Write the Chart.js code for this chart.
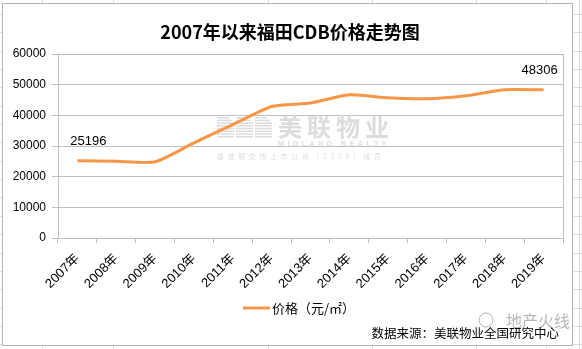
<!DOCTYPE html>
<html>
<head>
<meta charset="utf-8">
<script src="https://cdn.jsdelivr.net/npm/chart.js@4.4.1/dist/chart.umd.min.js"></script>
<style>
  html, body { margin: 0; padding: 0; background: #ffffff; }
  #wrap { position: relative; width: 582px; height: 349px; }
</style>
</head>
<body>
<div id="wrap"><canvas id="c"></canvas></div>
<script>
// Categories and series
const years = ['2007年', '2008年', '2009年', '2010年', '2011年', '2012年', '2013年',
               '2014年', '2015年', '2016年', '2017年', '2018年', '2019年'];
const prices = [25196, 25050, 24850, 31000, 37000, 42900, 44000,
                46700, 45700, 45400, 46400, 48350, 48306];
const yTicks = [0, 10000, 20000, 30000, 40000, 50000, 60000];
// Indices of points that carry a value label
const labelledPoints = [0, 12];

const chartTitle = '2007年以来福田CDB价格走势图';
const seriesName = '价格（元/㎡）';
const sourceNote = '数据来源：美联物业全国研究中心';

const ORANGE = '#F79646';
const GRID = '#BFBFBF';
const CJK = '"Noto Sans CJK SC", "Liberation Sans", sans-serif';
const NUM = '"Liberation Sans", "Noto Sans CJK SC", sans-serif';

// Sheet cells behind the chart object, frame, title
const backdrop = {
  id: 'backdrop',
  beforeDraw(chart) {
    const ctx = chart.ctx;
    const W = chart.width, H = chart.height;
    ctx.save();
    ctx.fillStyle = '#ffffff';
    ctx.fillRect(0, 0, W, H);
    // spreadsheet cell lines
    ctx.strokeStyle = '#D8DAE6';
    ctx.lineWidth = 1;
    [42, 113, 268, 372, 476, 546, 579].forEach(x => {
      ctx.beginPath(); ctx.moveTo(x + 0.5, 0); ctx.lineTo(x + 0.5, H); ctx.stroke();
    });
    for (let y = 14; y < H; y += 18.35) {
      const yy = Math.round(y) + 0.5;
      ctx.beginPath(); ctx.moveTo(0, yy); ctx.lineTo(W, yy); ctx.stroke();
    }
    // chart object
    ctx.fillStyle = '#ffffff';
    ctx.fillRect(2, 3, 570, 342);
    ctx.strokeStyle = '#B4B4B4';
    ctx.strokeRect(2.5, 3.5, 570, 342);
    // title
    ctx.fillStyle = '#000000';
    ctx.font = 'bold 18px ' + CJK;
    ctx.textAlign = 'center';
    ctx.textBaseline = 'middle';
    ctx.fillText(chartTitle, 290, 32);
    ctx.restore();
  }
};

// Company mark printed faintly across the plot
const watermark = {
  id: 'watermark',
  beforeDatasetsDraw(chart) {
    const ctx = chart.ctx;
    ctx.save();
    ctx.fillStyle = '#DCDCDC';
    // striped logo: three arches built from horizontal bars
    const bx = [217, 236, 255];
    for (let r = 0; r < 8; r++) {
      const y = 117 + r * 2.7;
      bx.forEach((x0) => {
        let w = 17;
        if (r === 0) { w = 12; }
        if (r === 1) { w = 15; }
        ctx.fillRect(x0, y, w, 1.5);
      });
    }
    ctx.font = 'bold 24px ' + CJK;
    ctx.textAlign = 'left';
    ctx.textBaseline = 'middle';
    ctx.letterSpacing = '5px';
    ctx.fillText('美联物业', 278, 127);
    ctx.font = 'bold 7px ' + NUM;
    ctx.letterSpacing = '3.6px';
    ctx.fillText('MIDLAND REALTY', 278, 144);
    ctx.font = '7px ' + CJK;
    ctx.letterSpacing = '3.6px';
    ctx.fillText('香港联交所上市公司（1200）成员', 217, 156);
    ctx.restore();
  }
};

// Value labels, plot frame, legend and source note
const annotations = {
  id: 'annotations',
  afterDatasetsDraw(chart) {
    const ctx = chart.ctx;
    const meta = chart.getDatasetMeta(0);
    const a = chart.chartArea;
    ctx.save();
    // plot area frame on the right
    ctx.strokeStyle = GRID;
    ctx.lineWidth = 1;
    ctx.beginPath();
    ctx.moveTo(Math.round(a.right) + 0.5, Math.round(a.top));
    ctx.lineTo(Math.round(a.right) + 0.5, Math.round(a.bottom));
    ctx.stroke();
    // value labels above chosen points
    ctx.fillStyle = '#000000';
    ctx.font = '13px ' + NUM;
    ctx.textAlign = 'center';
    ctx.textBaseline = 'middle';
    labelledPoints.forEach((i, k) => {
      const p = meta.data[i];
      const dx = k === 0 ? 11 : -4;
      ctx.fillText(String(prices[i]), p.x + dx, p.y - 19);
    });
    ctx.restore();
  },
  afterDraw(chart) {
    const ctx = chart.ctx;
    ctx.save();
    // legend
    ctx.strokeStyle = ORANGE;
    ctx.lineWidth = 3;
    ctx.beginPath(); ctx.moveTo(243, 308); ctx.lineTo(270, 308); ctx.stroke();
    ctx.fillStyle = '#000000';
    ctx.font = '13px ' + CJK;
    ctx.textAlign = 'left';
    ctx.textBaseline = 'middle';
    ctx.fillText(seriesName, 272, 308);
    // feed account mark
    ctx.fillStyle = 'rgba(165,165,165,0.8)';
    ctx.font = '16px ' + CJK;
    ctx.fillText('地产火线', 506, 321);
    ctx.strokeStyle = 'rgba(165,165,165,0.8)';
    ctx.lineWidth = 1;
    ctx.beginPath(); ctx.arc(486, 320, 7, 0, Math.PI * 2); ctx.stroke();
    // source note
    ctx.fillStyle = '#000000';
    ctx.font = '12.5px ' + CJK;
    ctx.textAlign = 'right';
    ctx.fillText(sourceNote, 559, 333);
    ctx.restore();
  }
};

new Chart(document.getElementById('c'), {
  type: 'line',
  data: {
    labels: years,
    datasets: [{
      label: seriesName,
      data: prices,
      borderColor: ORANGE,
      backgroundColor: ORANGE,
      borderWidth: 3,
      pointRadius: 0,
      pointHoverRadius: 0,
      tension: 0.2,
      fill: false
    }]
  },
  options: {
    responsive: true,
    maintainAspectRatio: false,
    devicePixelRatio: 1,
    animation: false,
    events: [],
    layout: { padding: { left: 0, top: 54, right: 19, bottom: 0 } },
    plugins: {
      legend: { display: false },
      title: { display: false },
      tooltip: { enabled: false }
    },
    scales: {
      x: {
        type: 'category',
        offset: true,
        afterFit(scale) { scale.height = 111; },
        grid: {
          offset: true,
          drawOnChartArea: false,
          drawTicks: true,
          tickLength: 5,
          color: GRID
        },
        border: { color: GRID },
        ticks: {
          color: '#000000',
          font: { family: NUM, size: 13 },
          maxRotation: 45,
          minRotation: 45,
          autoSkip: false,
          padding: 8
        }
      },
      y: {
        min: yTicks[0],
        max: yTicks[yTicks.length - 1],
        afterFit(scale) { scale.width = 58; },
        afterBuildTicks(scale) { scale.ticks = yTicks.map(v => ({ value: v })); },
        grid: {
          color: GRID,
          drawTicks: true,
          tickLength: 6
        },
        border: { color: GRID },
        ticks: {
          color: '#000000',
          font: { family: NUM, size: 12 },
          padding: 6,
          callback: v => String(v)
        }
      }
    }
  },
  plugins: [backdrop, watermark, annotations]
});
</script>
</body>
</html>
